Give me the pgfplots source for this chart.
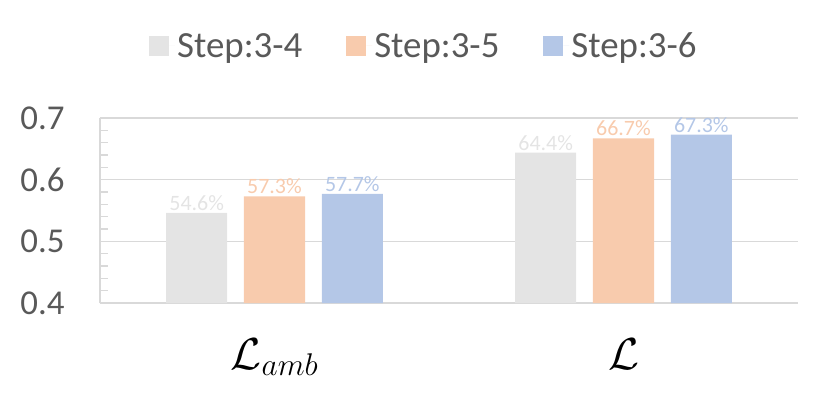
\RequirePackage{fix-cm}
\documentclass[border=0pt]{standalone}
\usepackage{pgfplots}
\pgfplotsset{compat=1.18}
\usepackage{fontspec}
\setmainfont{Carlito}
\definecolor{cgray}{HTML}{E4E4E4}
\definecolor{corange}{HTML}{F8CBAD}
\definecolor{cblue}{HTML}{B4C7E7}
\definecolor{glines}{HTML}{D9D9D9}
\definecolor{tlab}{HTML}{595959}
\begin{document}
\begin{tikzpicture}
\begin{axis}[
  at={(0,0)}, anchor=south west,
  scale only axis, width=698bp, height=185bp,
  xmin=-0.5, xmax=1.5, ymin=0.4, ymax=0.7,
  ybar, bar width=0.175,
  axis x line*=bottom, axis y line*=left,
  axis line style={glines, line width=1.5bp},
  xtick={0,1}, xticklabels={$\mathcal{L}_{amb}$,$\mathcal{L}$},
  xtick style={draw=none},
  xticklabel style={font=\fontsize{45}{54}\selectfont, yshift=-32bp},
  ytick={0.4,0.5,0.6,0.7},
  minor ytick={0.42,0.44,0.46,0.48,0.52,0.54,0.56,0.58,0.62,0.64,0.66,0.68},
  major tick length=0pt,
  minor tick length=8bp,
  minor tick style={glines, line width=1.5bp},
  tick align=inside,
  ymajorgrids, major grid style={glines, line width=1.5bp},
  /pgf/number format/assume math mode=true,
  yticklabel={\pgfmathprintnumber[fixed,precision=1,fixed zerofill]{\tick}},
  yticklabel style={font=\fontsize{35}{42}\selectfont, text=tlab, xshift=-32bp},
  nodes near coords={\pgfmathprintnumber[fixed,precision=1,fixed zerofill]{\pgfplotspointmeta}\%},
  point meta={y*100},
  nodes near coords style={font=\fontsize{22}{26}\selectfont, inner sep=2bp},
  legend columns=3,
  legend style={at={(0.464,1.39)}, anchor=center, draw=none, fill=none,
    font=\fontsize{37}{44}\selectfont, text=tlab,
    /tikz/every even column/.append style={column sep=42bp}},
  legend image code/.code={\fill[#1] (0bp,-10bp) rectangle (20bp,10bp); \path (20bp,0) -- (26bp,0);},
]
\addplot[fill=cgray, draw=none, bar shift=-0.223, nodes near coords style={text=cgray}] coordinates {(0,0.546) (1,0.644)};
\addplot[fill=corange, draw=none, bar shift=0, nodes near coords style={text=corange}] coordinates {(0,0.573) (1,0.667)};
\addplot[fill=cblue, draw=none, bar shift=0.223, nodes near coords style={text=cblue}] coordinates {(0,0.577) (1,0.673)};
\legend{Step:3-4,Step:3-5,Step:3-6}
\end{axis}
\pgfresetboundingbox
\path[use as bounding box] (-100bp,-105bp) rectangle (731bp,303bp);
\end{tikzpicture}
\end{document}
